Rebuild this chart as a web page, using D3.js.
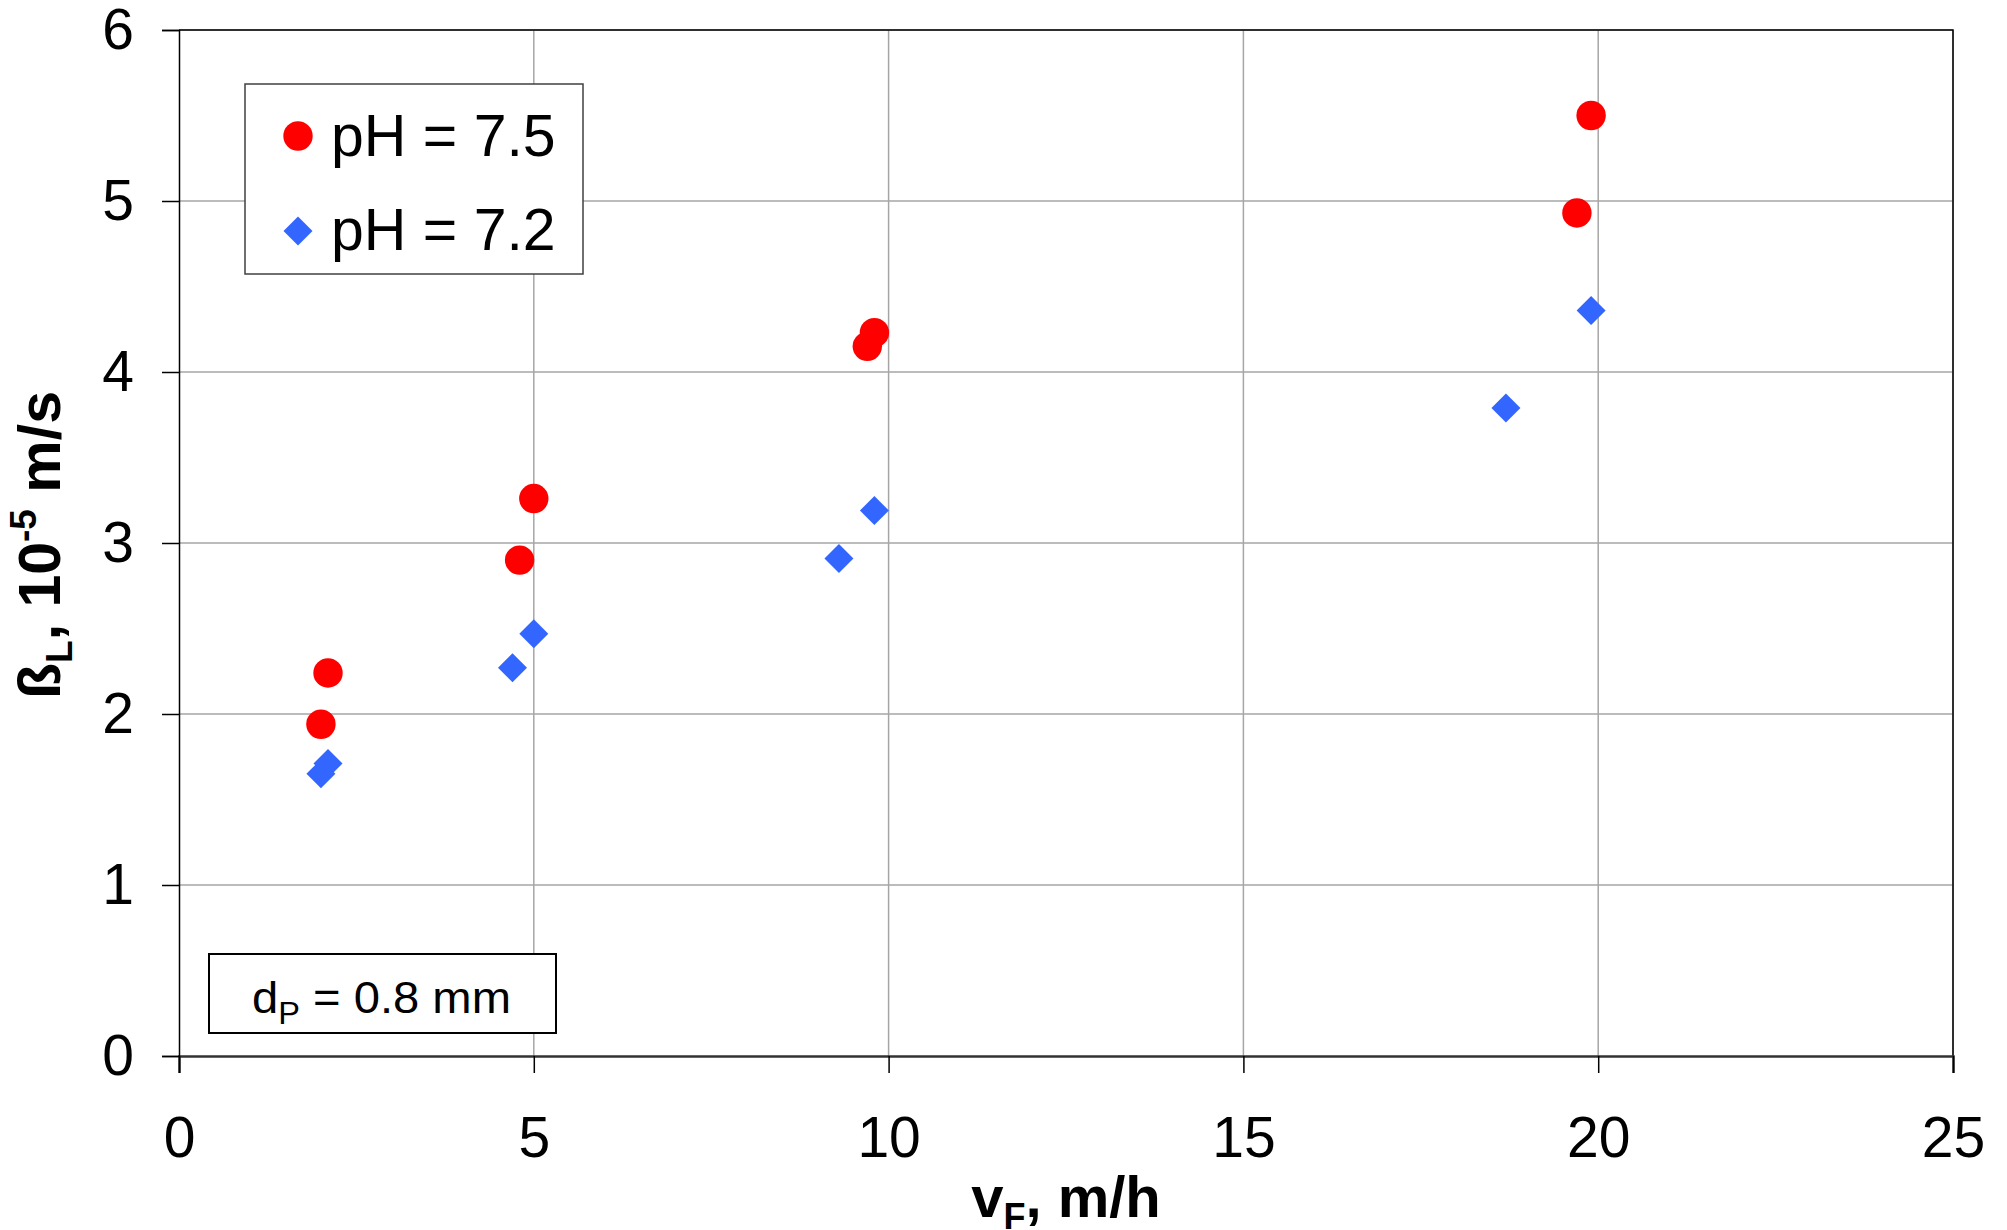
<!DOCTYPE html>
<html>
<head>
<meta charset="utf-8">
<script src="https://cdn.jsdelivr.net/npm/d3@7"></script>
<style>
  html, body { margin: 0; padding: 0; background: #fff; }
  svg { display: block; font-family: "Liberation Sans", Arial, sans-serif; }
</style>
</head>
<body>
<svg id="chart" width="2007" height="1230"></svg>
<script>
// ---- data ----
const seriesNames = ["pH = 7.5", "pH = 7.2"];
const vF_ph75 = [2.0, 2.1, 4.8, 5.0, 9.7, 9.8, 19.7, 19.9];
const beta_ph75 = [1.94, 2.24, 2.90, 3.26, 4.15, 4.23, 4.93, 5.50];
const vF_ph72 = [2.0, 2.1, 4.7, 5.0, 9.3, 9.8, 18.7, 19.9];
const beta_ph72 = [1.65, 1.71, 2.27, 2.47, 2.91, 3.19, 3.79, 4.36];
const xTicks = [0, 5, 10, 15, 20, 25];
const yTicks = [0, 1, 2, 3, 4, 5, 6];
const annotation = "0.8 mm";

// ---- layout ----
const svg = d3.select("#chart");
const pL = 179, pR = 1953, pT = 30, pB = 1056;
const x = d3.scaleLinear().domain([0, 25]).range([pL, pR]);
const y = d3.scaleLinear().domain([0, 6]).range([pB, pT]);
const RED = "#ff0000", BLUE = "#3366ff";

// grid
const grid = svg.append("g");
grid.selectAll("line.gx").data(xTicks.slice(1)).join("line")
  .attr("x1", d => x(d)).attr("x2", d => x(d)).attr("y1", pT).attr("y2", pB)
  .attr("stroke", "#a6a6a6").attr("stroke-width", 1.5);
grid.selectAll("line.gy").data(yTicks.slice(1)).join("line")
  .attr("x1", pL).attr("x2", pR).attr("y1", d => y(d)).attr("y2", d => y(d))
  .attr("stroke", "#a6a6a6").attr("stroke-width", 1.5);

// border top/right
svg.append("path")
  .attr("d", `M${pL},${pT}H${pR}V${pB}`)
  .attr("fill", "none").attr("stroke", "#000").attr("stroke-width", 1.5);

// axes
const xAxis = d3.axisBottom(x).tickValues(xTicks).tickSize(17).tickPadding(44).tickFormat(d3.format("d"));
const yAxis = d3.axisLeft(y).tickValues(yTicks).tickSize(17).tickPadding(28).tickFormat(d3.format("d"));
const gx = svg.append("g").attr("transform", `translate(0,${pB})`).call(xAxis);
const gy = svg.append("g").attr("transform", `translate(${pL},0)`).call(yAxis);
[gx, gy].forEach(g => {
  g.select(".domain").attr("stroke", "#000").attr("stroke-width", 1.5);
  g.selectAll(".tick line").attr("stroke", "#000").attr("stroke-width", 1.5);
  g.selectAll(".tick text").attr("fill", "#000")
    .style("font-family", '"Liberation Sans", Arial, sans-serif').style("font-size", "57px");
});
gx.select(".domain").attr("stroke", "#333").attr("stroke-width", 2.5);

// axis titles
const xt = svg.append("text").attr("x", (pL + pR) / 2).attr("y", 1217)
  .attr("text-anchor", "middle").style("font-size", "58px").style("font-weight", "bold");
xt.append("tspan").text("v");
xt.append("tspan").attr("dy", 12).style("font-size", "36px").text("F");
xt.append("tspan").attr("dy", -12).text(", m/h");

const yt = svg.append("text").attr("transform", `translate(60,${(pT + pB) / 2 + 2}) rotate(-90)`)
  .attr("text-anchor", "middle").style("font-size", "59px").style("font-weight", "bold");
yt.append("tspan").text("ß");
yt.append("tspan").attr("dy", 12).style("font-size", "37px").text("L");
yt.append("tspan").attr("dy", -12).text(", 10");
yt.append("tspan").attr("dy", -24).style("font-size", "37px").text("-5");
yt.append("tspan").attr("dy", 24).text(" m/s");

// points
const circle = d3.symbol().type(d3.symbolCircle).size(Math.PI * 14.7 * 14.7);
const square = d3.symbol().type(d3.symbolSquare).size(20.5 * 20.5);
const pts72 = vF_ph72.map((v, i) => ({ v, b: beta_ph72[i] }));
const pts75 = vF_ph75.map((v, i) => ({ v, b: beta_ph75[i] }));
svg.append("g").selectAll("path").data(pts72).join("path")
  .attr("d", square()).attr("fill", BLUE)
  .attr("transform", d => `translate(${x(d.v)},${y(d.b)}) rotate(45)`);
svg.append("g").selectAll("path").data(pts75).join("path")
  .attr("d", circle()).attr("fill", RED)
  .attr("transform", d => `translate(${x(d.v)},${y(d.b)})`);

// legend
const lg = svg.append("g");
lg.append("rect").attr("x", 245).attr("y", 84).attr("width", 338).attr("height", 190)
  .attr("fill", "#fff").attr("stroke", "#404040").attr("stroke-width", 1.5);
lg.append("path").attr("d", circle()).attr("fill", RED).attr("transform", "translate(298,136)");
lg.append("path").attr("d", square()).attr("fill", BLUE).attr("transform", "translate(298,231) rotate(45)");
lg.selectAll("text").data(seriesNames).join("text")
  .attr("x", 331).attr("y", (d, i) => 156 + i * 94)
  .style("font-size", "59px").text(d => d);

// annotation box
svg.append("rect").attr("x", 209).attr("y", 954).attr("width", 347).attr("height", 79)
  .attr("fill", "#fff").attr("stroke", "#000").attr("stroke-width", 2);
const ag = svg.append("g");
const at = ag.append("text").attr("x", 0).attr("y", 0).style("font-size", "45px");
at.append("tspan").text("d");
at.append("tspan").attr("dy", 11).style("font-size", "31px").text("P");
at.append("tspan").attr("dy", -11).text(" = " + annotation);
const bw = at.node().getBBox().width;
ag.attr("transform", `translate(252,1013) scale(${259 / bw},1)`);
</script>
</body>
</html>
